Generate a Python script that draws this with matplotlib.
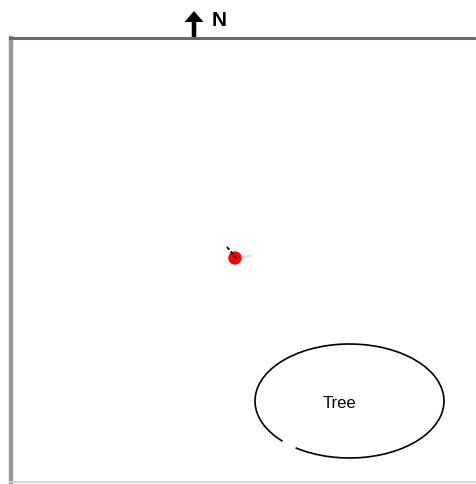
import numpy as np
import matplotlib.pyplot as plt
from matplotlib.patches import Arc, Circle, FancyArrow

# scene data (pixel coordinates of the map, y grows downward)
field_x = [10, 477]
field_y = [38, 482]
tree_center = (349.5, 401)
tree_size = (189, 114)
tree_label = "Tree"
gap_angles = (139, 149)  # opening in the tree outline (lower left)
bird_pos = (235, 258)
bird_radius = 6
heading_x = [227, 236]
heading_y = [247, 258]
north_label = "N"
north_x = 194
north_y = [37, 11]

fig = plt.figure(figsize=(4.77, 4.84), dpi=100)
ax = fig.add_axes([0, 0, 1, 1])
ax.set_xlim(0, 477)
ax.set_ylim(484, 0)
ax.axis("off")

# field border
ax.plot([field_x[0] + 1, field_x[0] + 1], [field_y[0], field_y[1] + 2], color="#9a9a9a", lw=3.2, zorder=1)
ax.plot([field_x[0], field_x[1]], [field_y[0], field_y[0]], color="#6a6a6a", lw=2.2, zorder=2)
ax.plot([field_x[0], field_x[1]], [field_y[1], field_y[1]], color="#cfcfcf", lw=1.2)
ax.plot([field_x[1] - 0.5, field_x[1] - 0.5], [field_y[0], field_y[1]], color="#e8e8e8", lw=1)

# tree (ellipse with a small gap)
ax.add_patch(Arc(tree_center, tree_size[0], tree_size[1], theta1=gap_angles[1],
                 theta2=gap_angles[0] + 360, color="black", lw=1.2))
ax.text(tree_center[0] - 10, tree_center[1] + 2, tree_label, ha="center", va="center",
        fontsize=12, family="Liberation Sans")

# bird and heading
ax.plot([bird_pos[0] + 6, bird_pos[0] + 15], [bird_pos[1] - 1, bird_pos[1] - 2], color="#dddddd", lw=1.5)
ax.add_patch(Circle(bird_pos, bird_radius, color="red", zorder=3))
ax.plot(heading_x, heading_y, color="black", lw=1.3, ls=(0, (2, 1.2)), zorder=4)

# north arrow
ax.add_patch(FancyArrow(north_x, north_y[0], 0, north_y[1] - north_y[0], width=4.5,
                        head_width=19, head_length=11, length_includes_head=True,
                        color="black", lw=0))
ax.text(north_x + 25, 21, north_label, ha="center", va="center", fontsize=15,
        fontweight="bold", family="Liberation Sans")

fig.savefig("out.png", dpi=100)
